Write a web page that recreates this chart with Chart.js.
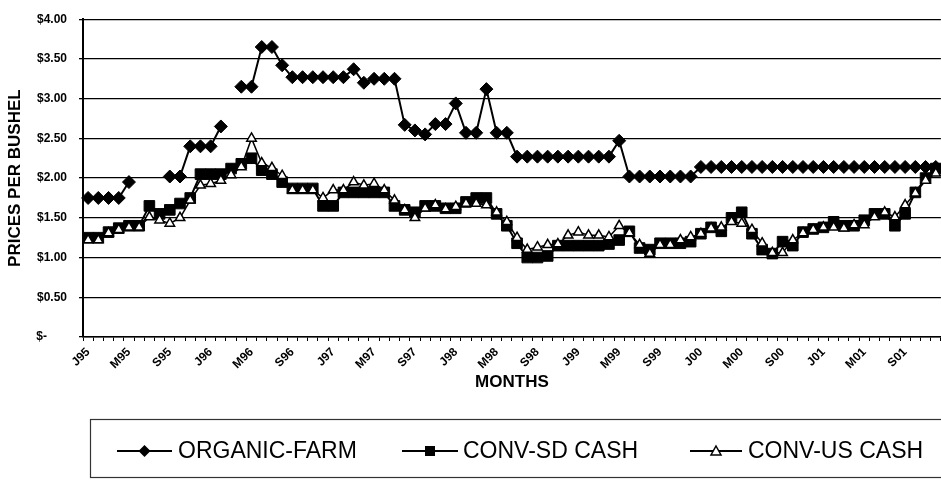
<!DOCTYPE html>
<html>
<head>
<meta charset="utf-8">
<script src="https://cdn.jsdelivr.net/npm/chart.js@4.4.1/dist/chart.umd.min.js"></script>
<style>
  html, body { margin: 0; padding: 0; background: #fff; overflow: hidden; }
  #wrap { position: relative; width: 950px; height: 481px; }
</style>
</head>
<body>
<div id="wrap"><canvas id="myChart" width="950" height="481"></canvas></div>
<script>
'use strict';
// ---------- Data ------------- //
let years = ['95', '96', '97', '98', '99', '00', '01'];
let monthNames = ['Jan', 'Feb', 'Mar', 'Apr', 'May', 'Jun', 'Jul', 'Aug', 'Sep', 'Oct', 'Nov', 'Dec'];
let tickLabels = ['J95', 'M95', 'S95', 'J96', 'M96', 'S96', 'J97', 'M97', 'S97', 'J98', 'M98',
  'S98', 'J99', 'M99', 'S99', 'J00', 'M00', 'S00', 'J01', 'M01', 'S01'];
let yTicks = [0, 0.5, 1, 1.5, 2, 2.5, 3, 3.5, 4];

let organicFarm = [
  1.75, 1.75, 1.75, 1.75, 1.95, null, null, null, 2.02, 2.02, 2.40, 2.40,
  2.40, 2.65, null, 3.15, 3.15, 3.65, 3.65, 3.42, 3.27, 3.27, 3.27, 3.27,
  3.27, 3.27, 3.37, 3.20, 3.25, 3.25, 3.25, 2.67, 2.60, 2.55, 2.68, 2.68,
  2.94, 2.57, 2.57, 3.12, 2.57, 2.57, 2.27, 2.27, 2.27, 2.27, 2.27, 2.27,
  2.27, 2.27, 2.27, 2.27, 2.47, 2.02, 2.02, 2.02, 2.02, 2.02, 2.02, 2.02,
  2.14, 2.14, 2.14, 2.14, 2.14, 2.14, 2.14, 2.14, 2.14, 2.14, 2.14, 2.14,
  2.14, 2.14, 2.14, 2.14, 2.14, 2.14, 2.14, 2.14, 2.14, 2.14, 2.14, 2.14
];
let convSdCash = [
  1.25, 1.25, 1.32, 1.37, 1.40, 1.40, 1.65, 1.55, 1.60, 1.68, 1.75, 2.05,
  2.05, 2.05, 2.12, 2.18, 2.25, 2.10, 2.05, 1.95, 1.87, 1.87, 1.87, 1.65,
  1.65, 1.82, 1.82, 1.82, 1.82, 1.82, 1.65, 1.60, 1.57, 1.65, 1.65, 1.62,
  1.62, 1.70, 1.75, 1.75, 1.55, 1.40, 1.18, 1.00, 1.00, 1.02, 1.15, 1.15,
  1.15, 1.15, 1.15, 1.17, 1.22, 1.33, 1.12, 1.10, 1.18, 1.18, 1.18, 1.20,
  1.30, 1.38, 1.33, 1.50, 1.57, 1.30, 1.10, 1.05, 1.20, 1.15, 1.32, 1.36,
  1.38, 1.45, 1.40, 1.40, 1.47, 1.55, 1.55, 1.40, 1.55, 1.82, 2.00, 2.12
];
let convUsCash = [
  1.22, 1.22, 1.31, 1.35, 1.38, 1.38, 1.51, 1.47, 1.43, 1.50, 1.72, 1.91,
  1.93, 1.97, 2.04, 2.14, 2.50, 2.19, 2.13, 2.03, 1.85, 1.85, 1.85, 1.75,
  1.85, 1.85, 1.95, 1.91, 1.93, 1.85, 1.72, 1.60, 1.50, 1.62, 1.66, 1.61,
  1.64, 1.68, 1.68, 1.66, 1.57, 1.45, 1.25, 1.10, 1.13, 1.16, 1.17, 1.28,
  1.32, 1.28, 1.28, 1.26, 1.40, 1.31, 1.16, 1.05, 1.16, 1.16, 1.22, 1.26,
  1.30, 1.37, 1.38, 1.45, 1.43, 1.35, 1.18, 1.06, 1.06, 1.22, 1.31, 1.35,
  1.38, 1.38, 1.37, 1.41, 1.41, 1.51, 1.57, 1.51, 1.66, 1.81, 1.97, 2.06
];

let months = [];
for (let y of years) {
  for (let m of monthNames) {
    months.push(m + ' ' + y);
  }
}

let seriesNames = ['ORGANIC-FARM', 'CONV-SD CASH', 'CONV-US CASH'];
let fontName = "'Liberation Sans', Arial, sans-serif";

// ---------- Legend drawn like the old spreadsheet one ------------- //
function drawMarker(ctx, kind, x, y) {
  ctx.save();
  ctx.lineWidth = 1.5;
  ctx.strokeStyle = '#000';
  ctx.fillStyle = '#000';
  ctx.beginPath();
  if (kind === 'rectRot') {
    ctx.moveTo(x, y - 6); ctx.lineTo(x + 6, y); ctx.lineTo(x, y + 6); ctx.lineTo(x - 6, y);
    ctx.closePath(); ctx.fill();
  } else if (kind === 'rect') {
    ctx.rect(x - 5, y - 5, 10, 10); ctx.fill();
  } else {
    ctx.fillStyle = '#fff';
    ctx.moveTo(x, y - 5); ctx.lineTo(x + 5, y + 4); ctx.lineTo(x - 5, y + 4);
    ctx.closePath(); ctx.fill(); ctx.stroke();
  }
  ctx.restore();
}

let legendPlugin = {
  id: 'boxLegend',
  afterDraw(chart) {
    let ctx = chart.ctx;
    let items = [
      {x1: 117, x2: 172, tx: 178, kind: 'rectRot'},
      {x1: 402, x2: 458, tx: 463, kind: 'rect'},
      {x1: 690, x2: 742, tx: 748, kind: 'triangle'}
    ];
    let ly = 451;
    ctx.save();
    ctx.strokeStyle = '#333';
    ctx.lineWidth = 1.2;
    ctx.strokeRect(90.5, 419.5, 870, 58);
    ctx.font = '23px ' + fontName;
    ctx.fillStyle = '#000';
    ctx.textBaseline = 'middle';
    items.forEach((it, i) => {
      ctx.beginPath();
      ctx.strokeStyle = '#000';
      ctx.lineWidth = 2;
      ctx.moveTo(it.x1, ly);
      ctx.lineTo(it.x2, ly);
      ctx.stroke();
      drawMarker(ctx, it.kind, (it.x1 + it.x2) / 2, ly);
      ctx.fillText(seriesNames[i], it.tx, ly + 1);
    });
    ctx.restore();
  }
};

// ---------- Chart ------------- //
let chartObject = {
  type: 'line',
  data: {
    labels: months,
    datasets: [
      {
        label: seriesNames[0],
        data: organicFarm,
        borderColor: '#000',
        backgroundColor: '#000',
        borderWidth: 2,
        pointStyle: 'rectRot',
        pointRadius: 6.5,
        pointBorderWidth: 1,
        spanGaps: false,
        order: 3
      },
      {
        label: seriesNames[1],
        data: convSdCash,
        borderColor: '#000',
        backgroundColor: '#000',
        borderWidth: 2,
        pointStyle: 'rect',
        pointRadius: 7.5,
        pointBorderWidth: 1,
        order: 2
      },
      {
        label: seriesNames[2],
        data: convUsCash,
        borderColor: '#000',
        backgroundColor: '#fff',
        borderWidth: 1.5,
        pointStyle: 'triangle',
        pointRadius: 5.5,
        pointBorderWidth: 1.5,
        order: 1
      }
    ]
  },
  options: {
    responsive: false,
    animation: false,
    devicePixelRatio: 1,
    layout: {padding: {top: 19, right: 2, bottom: 84, left: 0}},
    plugins: {
      legend: {display: false},
      tooltip: {enabled: false}
    },
    elements: {line: {tension: 0}},
    scales: {
      x: {
        offset: true,
        afterFit: (scale) => { scale.height = 60; },
        grid: {
          display: true,
          offset: true,
          drawOnChartArea: false,
          drawTicks: true,
          tickLength: 4,
          color: '#000',
          lineWidth: 1
        },
        border: {display: true, color: '#000', width: 1.5},
        ticks: {
          autoSkip: false,
          minRotation: 45,
          maxRotation: 45,
          padding: 4,
          color: '#000',
          font: {family: fontName, size: 12, weight: 'bold'},
          callback: (val, i) => (i % 4 === 0 ? (tickLabels[i / 4] || '') : '')
        },
        title: {
          display: true,
          text: 'MONTHS',
          color: '#000',
          font: {family: fontName, size: 17, weight: 'bold'},
          padding: {top: 0, bottom: 4}
        }
      },
      y: {
        min: 0,
        max: 4,
        afterFit: (scale) => { scale.width = 83; },
        afterBuildTicks: (scale) => { scale.ticks = yTicks.map(v => ({value: v})); },
        grid: {color: '#000', lineWidth: 1.3, tickLength: 4},
        border: {display: true, color: '#000', width: 2},
        ticks: {
          padding: 12,
          color: '#000',
          font: {family: fontName, size: 12, weight: 'bold'},
          callback: (v) => (v === 0 ? '$-      ' : '$' + v.toFixed(2))
        },
        title: {
          display: true,
          text: 'PRICES PER BUSHEL',
          color: '#000',
          font: {family: fontName, size: 17, weight: 'bold'},
          padding: {top: 5, bottom: 0}
        }
      }
    }
  },
  plugins: [legendPlugin]
};

let ctx = document.getElementById('myChart').getContext('2d');
let myChart = new Chart(ctx, chartObject);
</script>
</body>
</html>
